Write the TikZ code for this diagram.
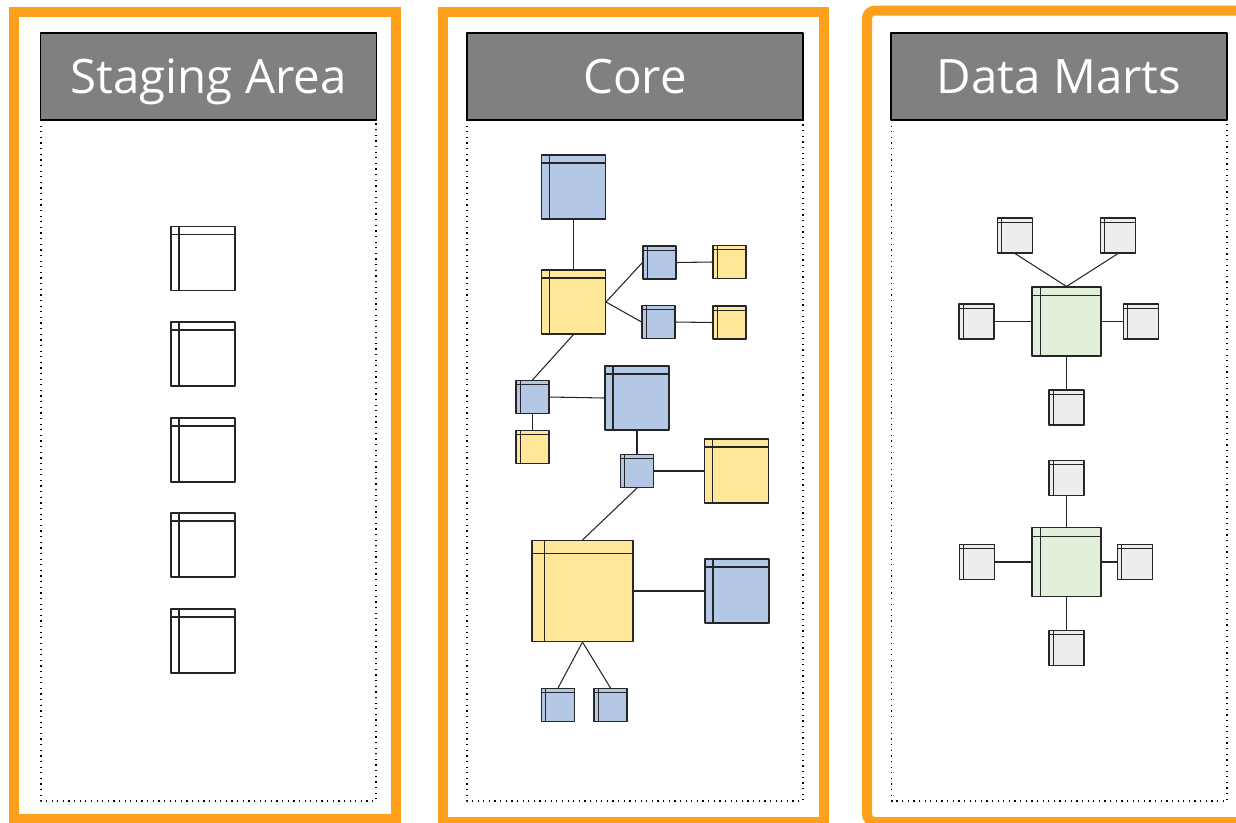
\documentclass[tikz,border=0pt]{standalone}
\usepackage{fontspec}
\setmainfont{Open Sans}
\usetikzlibrary{calc}
\definecolor{frameorange}{HTML}{FFA01C}
\definecolor{hdrgray}{HTML}{808080}
\definecolor{tblblue}{HTML}{B4C7E7}
\definecolor{tblyellow}{HTML}{FFE699}
\definecolor{tblgreen}{HTML}{E2EFDA}
\definecolor{tblgray}{HTML}{EDEDED}
\tikzset{
  every picture/.style={line join=round},
  frame/.style={draw=frameorange, line width=0.2cm, line join=miter},
  panel/.style={draw=black, line width=0.7pt, dash pattern=on 0.7pt off 2.5pt},
  hdr/.style={draw=black, line width=0.9pt, fill=hdrgray, text=white, inner sep=0pt,
    minimum width=6.72cm, minimum height=1.74cm, text height=0.68cm, text depth=0cm,
    font=\fontsize{27}{30}\selectfont},
  tbl/.style={draw=black!85, line width=0.6pt, inner sep=0pt, minimum size=#1,
    path picture={
      \draw[black!85, line width=0.6pt]
        ($(path picture bounding box.north west)!0.125!(path picture bounding box.south west)$) --
        ($(path picture bounding box.north east)!0.125!(path picture bounding box.south east)$);
      \draw[black!85, line width=0.6pt]
        ($(path picture bounding box.north west)!0.125!(path picture bounding box.north east)$) --
        ($(path picture bounding box.south west)!0.125!(path picture bounding box.south east)$);
    }},
  link/.style={draw=black!85, line width=0.6pt},
}

\begin{document}
\begin{tikzpicture}[x=0.02cm, y=-0.02cm]
\useasboundingbox (0,0) rectangle (1236,822);
\clip (0,0) rectangle (1236,822);
% three columns
\draw[frame] (14,12) rectangle (395.5,819);
\draw[frame] (442.5,11.5) rectangle (823.5,822);
\draw[frame, rounded corners=0.16cm] (867,10.5) rectangle (1260,822);
\draw[panel] (41,120) rectangle (376,801);
\draw[panel] (467,120) rectangle (803,801);
\draw[panel] (891.5,120) rectangle (1227,801);
\node[hdr] (hstage) at (208.5,76.5) {Staging Area};
\node[hdr] (hcore) at (635,76.5) {Core};
\node[hdr] (hmarts) at (1059,76.5) {Data Marts};
% staging
\node[tbl=1.28cm, fill=white] (s1) at (203,258.5) {};
\node[tbl=1.28cm, fill=white] (s2) at (203,354) {};
\node[tbl=1.28cm, fill=white] (s3) at (203,450) {};
\node[tbl=1.28cm, fill=white] (s4) at (203,545) {};
\node[tbl=1.28cm, fill=white] (s5) at (203,641) {};
% core
\node[tbl=1.28cm, fill=tblblue] (c1) at (573.5,187) {};
\node[tbl=1.28cm, fill=tblyellow] (c2) at (573.5,302) {};
\node[tbl=0.66cm, fill=tblblue] (c3) at (659.5,262.5) {};
\node[tbl=0.66cm, fill=tblyellow] (c4) at (729.5,262) {};
\node[tbl=0.66cm, fill=tblblue] (c5) at (658.5,322) {};
\node[tbl=0.66cm, fill=tblyellow] (c6) at (729.5,322.5) {};
\node[tbl=0.66cm, fill=tblblue] (c7) at (532.5,397) {};
\node[tbl=0.66cm, fill=tblyellow] (c8) at (532.5,447) {};
\node[tbl=1.28cm, fill=tblblue] (c9) at (637,398) {};
\node[tbl=0.66cm, fill=tblblue] (c10) at (637,471) {};
\node[tbl=1.28cm, fill=tblyellow] (c11) at (736.5,471) {};
\node[tbl=2.02cm, fill=tblyellow] (c12) at (582.5,591) {};
\node[tbl=1.28cm, fill=tblblue] (c13) at (737,591) {};
\node[tbl=0.66cm, fill=tblblue] (c14) at (558,705) {};
\node[tbl=0.66cm, fill=tblblue] (c15) at (610.5,705) {};
\draw[link] (c1.south) -- (c2.north);
\draw[link] (c2.east) -- (c3.west);
\draw[link] (c2.east) -- (c5.west);
\draw[link] (c3.east) -- (c4.west);
\draw[link] (c5.east) -- (c6.west);
\draw[link] (c2.south) -- (c7.north);
\draw[link] (c7.south) -- (c8.north);
\draw[link] (c7.east) -- (c9.west);
\draw[link] (c9.south) -- (c10.north);
\draw[link] (c10.east) -- (c11.west);
\draw[link] (c10.south) -- (c12.north);
\draw[link] (c12.east) -- (c13.west);
\draw[link] (c12.south) -- (c14.north);
\draw[link] (c12.south) -- (c15.north);
% data marts
\node[tbl=1.38cm, fill=tblgreen] (g1) at (1066.5,321.5) {};
\node[tbl=0.70cm, fill=tblgray] (m1) at (1015,235.5) {};
\node[tbl=0.70cm, fill=tblgray] (m2) at (1118,235.5) {};
\node[tbl=0.70cm, fill=tblgray] (m3) at (976.5,321.5) {};
\node[tbl=0.70cm, fill=tblgray] (m4) at (1141,321.5) {};
\node[tbl=0.70cm, fill=tblgray] (m5) at (1066.5,407.5) {};
\draw[link] (m1.south) -- (g1.north);
\draw[link] (m2.south) -- (g1.north);
\draw[link] (m3.east) -- (g1.west);
\draw[link] (g1.east) -- (m4.west);
\draw[link] (g1.south) -- (m5.north);
\node[tbl=1.38cm, fill=tblgreen] (g2) at (1066.5,562) {};
\node[tbl=0.70cm, fill=tblgray] (m6) at (1066.5,478) {};
\node[tbl=0.70cm, fill=tblgray] (m7) at (977,562) {};
\node[tbl=0.70cm, fill=tblgray] (m8) at (1135,562) {};
\node[tbl=0.70cm, fill=tblgray] (m9) at (1066.5,648) {};
\draw[link] (m6.south) -- (g2.north);
\draw[link] (m7.east) -- (g2.west);
\draw[link] (g2.east) -- (m8.west);
\draw[link] (g2.south) -- (m9.north);
\end{tikzpicture}
\end{document}
